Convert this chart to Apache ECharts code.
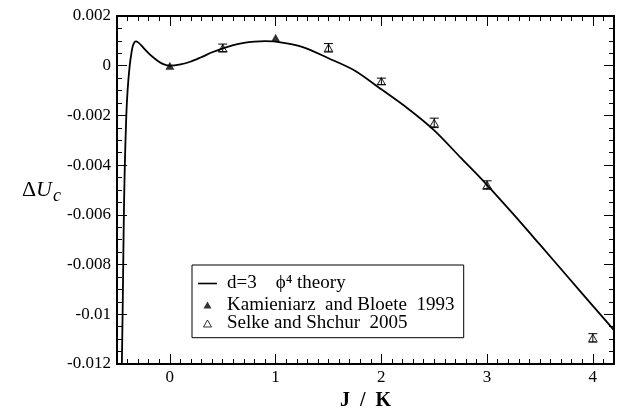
<!DOCTYPE html>
<html>
<head>
<meta charset="utf-8">
<script src="https://cdn.jsdelivr.net/npm/echarts@6/dist/echarts.min.js"></script>
<style>html,body{margin:0;padding:0;background:#fff}#c{width:620px;height:408px}</style>
</head>
<body>
<div id="c"></div>
<script>
// theory curve (d=3 phi^4 theory)
const theoryX = [-0.454, -0.447, -0.441, -0.435, -0.426, -0.412, -0.400, -0.380, -0.364, -0.350, -0.333, -0.320, -0.300, -0.270, -0.250, -0.200, -0.150, -0.100, -0.050, 0.0, 0.1, 0.2, 0.3, 0.4, 0.5, 0.6, 0.7, 0.8, 0.9, 1.0, 1.25, 1.5, 1.75, 2.0, 2.25, 2.5, 2.75, 3.0, 3.25, 3.5, 3.75, 4.0, 4.2];
const theoryY = [-0.012, -0.010, -0.008, -0.006, -0.004, -0.002, -0.001, 0.0, 0.0005, 0.0008, 0.00095, 0.00098, 0.00094, 0.00082, 0.00072, 0.0005, 0.00031, 0.00015, 0.00004, 0.0, 0.00005, 0.00017, 0.00035, 0.00054, 0.0007, 0.00083, 0.00092, 0.00097, 0.00099, 0.00097, 0.00076, 0.0003, -0.0002, -0.00095, -0.00172, -0.0026, -0.0037, -0.0048, -0.00598, -0.0072, -0.00843, -0.00966, -0.01064];
// Kamieniarz and Bloete 1993
const kbX = [0, 1];
const kbY = [0.0, 0.00112];
// Selke and Shchur 2005
const ssX = [0.5, 1.5, 2.0, 2.5, 3.0, 4.0];
const ssY = [0.00071, 0.00072, -0.00063, -0.0023, -0.0048, -0.01095];
const ssErr = [0.00016, 0.00017, 0.00013, 0.00019, 0.00017, 0.00017];
// ticks
const xMajorTicks = [0, 1, 2, 3, 4];
const legendNames = ['d=3    \u03D5\u2074 theory', 'Kamieniarz  and Bloete  1993', 'Selke and Shchur  2005'];

const FONT = 'Liberation Serif';
const chart = echarts.init(document.getElementById('c'), null, {renderer: 'canvas'});

function zip(a, b, c) { return a.map((v, i) => c ? [v, b[i], c[i]] : [v, b[i]]); }

const X0 = -0.5, X1 = 4.2, Y0 = -0.012, Y1 = 0.002;
const baseX = {type: 'value', min: X0, max: X1, splitLine: {show: false}};
const baseY = {type: 'value', min: Y0, max: Y1, splitLine: {show: false}};
const lineOn = {show: true, onZero: false, lineStyle: {color: '#000', width: 2}};
const lineOff = {show: false, onZero: false};

function yFmt(v) { const r = Math.round(v * 1e4) / 1e4; return r === 0 ? '0' : String(r); }

const legendIcons = {};
legendIcons[legendNames[0]] = {icon: 'path://M0,0 L19,0 L19,1.6 L0,1.6 Z', itemStyle: {color: '#000', borderWidth: 0}};
legendIcons[legendNames[1]] = {icon: 'path://M4,0 L8,7 L0,7 Z', itemStyle: {color: '#000', borderWidth: 0}};
legendIcons[legendNames[2]] = {icon: 'path://M4,0 L8,7 L0,7 Z', itemStyle: {color: 'rgba(0,0,0,0)', borderColor: '#000', borderWidth: 1}};
function legendItem(n) { return Object.assign({name: n}, legendIcons[n]); }
const legendText = {fontFamily: FONT, fontSize: 19, color: '#000', padding: [0, 0, 0, 5]};

const option = {
  animation: false,
  backgroundColor: '#fff',
  grid: {left: 117, right: 6, top: 16, bottom: 44, containLabel: false, outerBoundsMode: 'none'},
  xAxis: [
    Object.assign({}, baseX, {position: 'bottom', axisLine: lineOn,
      axisTick: {inside: true, length: 10, customValues: xMajorTicks, lineStyle: {color: '#000', width: 1}},
      axisLabel: {customValues: xMajorTicks, margin: 5, color: '#000', fontFamily: FONT, fontSize: 17},
      name: 'J\u2002/\u2002K', nameLocation: 'middle', nameGap: 24,
      nameTextStyle: {fontFamily: FONT, fontSize: 20, fontWeight: 'bold', color: '#000'}}),
    Object.assign({}, baseX, {position: 'bottom', interval: 0.1, axisLine: lineOff,
      axisTick: {inside: true, length: 5, lineStyle: {color: '#000', width: 1}}, axisLabel: {show: false}}),
    Object.assign({}, baseX, {position: 'top', axisLine: lineOn,
      axisTick: {inside: true, length: 10, customValues: xMajorTicks, lineStyle: {color: '#000', width: 1}},
      axisLabel: {show: false}}),
    Object.assign({}, baseX, {position: 'top', interval: 0.1, axisLine: lineOff,
      axisTick: {inside: true, length: 5, lineStyle: {color: '#000', width: 1}}, axisLabel: {show: false}})
  ],
  yAxis: [
    Object.assign({}, baseY, {position: 'left', interval: 0.002, axisLine: lineOn,
      axisTick: {inside: true, length: 10, lineStyle: {color: '#000', width: 1}},
      axisLabel: {margin: 6, color: '#000', fontFamily: FONT, fontSize: 17, formatter: yFmt},
      name: '{d|\u0394}{u|U}{c|c}', nameLocation: 'middle', nameRotate: 0, nameGap: 56,
      nameTextStyle: {fontFamily: FONT, color: '#000', rich: {
        d: {fontFamily: FONT, fontSize: 22, color: '#000', verticalAlign: 'top', padding: [5, 0, 0, 0]},
        u: {fontFamily: FONT, fontSize: 22, fontStyle: 'italic', color: '#000', verticalAlign: 'top', padding: [5, 1, 0, 0]},
        c: {fontFamily: FONT, fontSize: 18, fontStyle: 'italic', color: '#000', verticalAlign: 'top', padding: [13.3, 0, 0, 0]}
      }}}),
    Object.assign({}, baseY, {position: 'left', interval: 0.0005, axisLine: lineOff,
      axisTick: {inside: true, length: 5, lineStyle: {color: '#000', width: 1}}, axisLabel: {show: false}}),
    Object.assign({}, baseY, {position: 'right', interval: 0.002, axisLine: lineOn,
      axisTick: {inside: true, length: 10, lineStyle: {color: '#000', width: 1}}, axisLabel: {show: false}}),
    Object.assign({}, baseY, {position: 'right', interval: 0.0005, axisLine: lineOff,
      axisTick: {inside: true, length: 5, lineStyle: {color: '#000', width: 1}}, axisLabel: {show: false}})
  ],
  legend: [
    {
      orient: 'vertical', left: 192, top: 265,
      padding: [9, 9.3, 23.1, 6],
      itemWidth: 19, itemHeight: 7, itemGap: 2.6,
      borderColor: '#000', borderWidth: 1, backgroundColor: '#fff',
      selectedMode: false, z: 4,
      textStyle: legendText,
      data: [legendItem(legendNames[0]), legendItem(legendNames[1])]
    },
    {
      orient: 'vertical', left: 203, top: 314,
      padding: 0,
      itemWidth: 19, itemHeight: 7,
      selectedMode: false, z: 6,
      textStyle: legendText,
      data: [legendItem(legendNames[2])]
    }
  ],
  series: [
    {
      name: legendNames[0], type: 'line', xAxisIndex: 0, yAxisIndex: 0,
      data: zip(theoryX, theoryY), symbol: 'none', smooth: 0.3, clip: true,
      lineStyle: {color: '#000', width: 1.8}, itemStyle: {color: '#000'}, z: 3
    },
    {
      name: legendNames[1], type: 'scatter', xAxisIndex: 0, yAxisIndex: 0,
      data: zip(kbX, kbY), symbol: 'triangle', symbolSize: [9, 8],
      itemStyle: {color: '#000'}, z: 4
    },
    {
      name: legendNames[2], type: 'scatter', xAxisIndex: 0, yAxisIndex: 0,
      data: zip(ssX, ssY), symbol: 'triangle', symbolSize: [8, 7],
      itemStyle: {color: 'rgba(0,0,0,0)', borderColor: '#000', borderWidth: 1}, z: 4
    },
    {
      name: 'errors', type: 'custom', xAxisIndex: 0, yAxisIndex: 0,
      data: zip(ssX, ssY, ssErr), z: 5,
      renderItem: function (params, api) {
        const x = api.value(0), y = api.value(1), e = api.value(2);
        const p1 = api.coord([x, y + e]);
        const p2 = api.coord([x, y - e]);
        const hw = 4.5;
        const st = {stroke: '#000', lineWidth: 1};
        return {type: 'group', children: [
          {type: 'line', shape: {x1: p1[0], y1: p1[1], x2: p2[0], y2: p2[1]}, style: st},
          {type: 'line', shape: {x1: p1[0] - hw, y1: p1[1], x2: p1[0] + hw, y2: p1[1]}, style: st},
          {type: 'line', shape: {x1: p2[0] - hw, y1: p2[1], x2: p2[0] + hw, y2: p2[1]}, style: st}
        ]};
      }
    }
  ]
};
chart.setOption(option);
</script>
</body>
</html>
